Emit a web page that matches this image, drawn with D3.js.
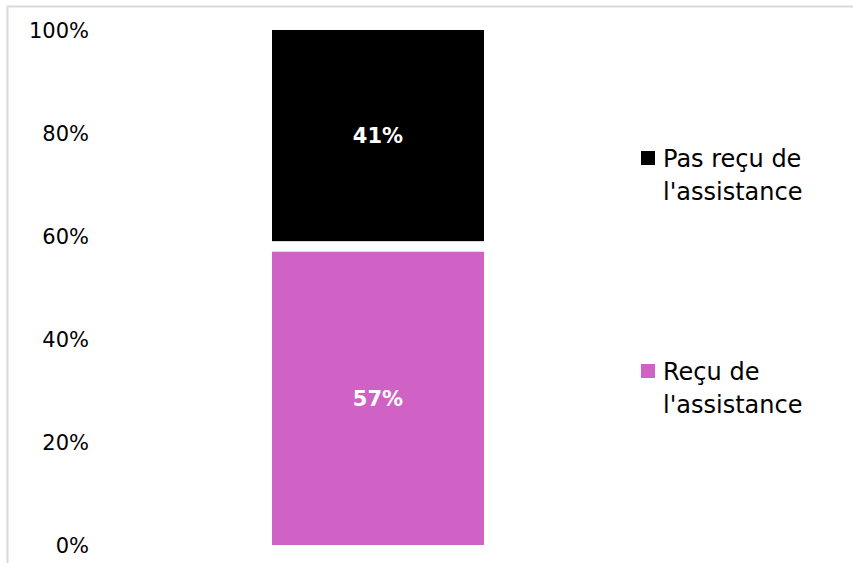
<!DOCTYPE html>
<html><head><meta charset="utf-8">
<script src="https://cdn.jsdelivr.net/npm/d3@7"></script>
<style>body{margin:0;background:#fff;}svg{display:block;font-family:"DejaVu Sans",sans-serif;}</style>
</head><body>
<svg id="c" width="853" height="563"></svg>
<script>
const categories = ["Total"];
const seriesNames = ["Reçu de l'assistance", "Sans réponse", "Pas reçu de l'assistance"];
const recu = [57];
const sansReponse = [2];
const pasRecu = [41];
const tickValues = [0, 20, 40, 60, 80, 100];
const colors = ["#d062c6", "#ffffff", "#000000"];

const svg = d3.select("#c");
// chart border
svg.append("path").attr("d", "M7.5,563 V6.5 H853").attr("fill", "none").attr("stroke", "#d9d9d9").attr("stroke-width", 2);

const y = d3.scaleLinear().domain([0, 100]).range([545, 30]);
const x = d3.scaleBand().domain(categories).range([166, 590]).paddingInner(0).paddingOuter(0.5);

const rows = categories.map((c, i) => ({cat: c, s0: recu[i], s1: sansReponse[i], s2: pasRecu[i]}));
const stack = d3.stack().keys(["s0", "s1", "s2"])(rows);

const yAxis = d3.axisLeft(y).tickValues(tickValues).tickSize(0).tickPadding(0).tickFormat(d => d + "%");
const ga = svg.append("g").attr("transform", "translate(89,0)").call(yAxis);
ga.select(".domain").remove();
ga.selectAll("text").attr("font-size", 21).attr("fill", "#000").attr("font-family", "DejaVu Sans, sans-serif").attr("dy", "0.36em");

stack.forEach((layer, li) => {
  svg.append("g").selectAll("rect").data(layer).join("rect")
    .attr("x", d => x(d.data.cat))
    .attr("width", x.bandwidth())
    .attr("y", d => y(d[1]))
    .attr("height", d => y(d[0]) - y(d[1]))
    .attr("fill", colors[li]);
  if (li !== 1) {
    svg.append("g").selectAll("text").data(layer).join("text")
      .attr("x", d => x(d.data.cat) + x.bandwidth() / 2)
      .attr("y", d => (y(d[0]) + y(d[1])) / 2)
      .attr("dy", "0.36em")
      .attr("text-anchor", "middle")
      .attr("font-size", 21).attr("font-weight", "bold").attr("fill", "#fff")
      .text(d => (d[1] - d[0]) + "%");
  }
});

// legend
const legend = [
  {name: ["Pas reçu de", "l'assistance"], color: colors[2], top: 151},
  {name: ["Reçu de", "l'assistance"], color: colors[0], top: 364}
];
legend.forEach(l => {
  const g = svg.append("g");
  g.append("rect").attr("x", 641).attr("y", l.top).attr("width", 14).attr("height", 14).attr("fill", l.color);
  l.name.forEach((t, i) => {
    g.append("text").attr("x", 663).attr("y", l.top + 16 + i * 33).attr("font-size", 24).attr("fill", "#000").text(t);
  });
});
</script>
</body></html>
